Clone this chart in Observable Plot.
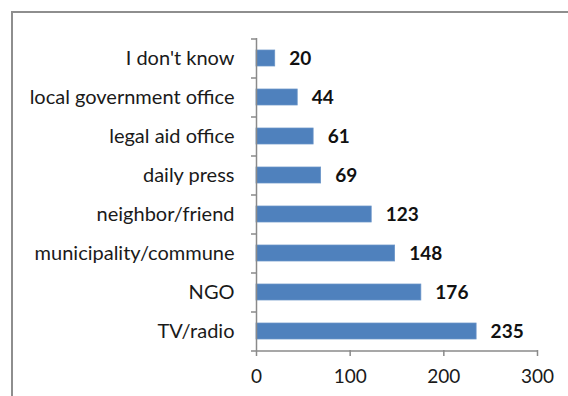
<!DOCTYPE html>
<html>
<head>
<meta charset="utf-8">
<script src="https://cdn.jsdelivr.net/npm/d3@7"></script>
<script src="https://cdn.jsdelivr.net/npm/@observablehq/plot@0.6"></script>
<style>
  html, body { margin: 0; padding: 0; background: #fff; }
  #wrap { position: relative; width: 568px; height: 396px; overflow: hidden; }
  #border { position: absolute; left: 11px; top: 11px; width: 620px; height: 420px; border: 2px solid #8e8e8e; box-sizing: border-box; }
  #chart { position: absolute; left: 0; top: 0; }
</style>
</head>
<body>
<div id="wrap"><div id="border"></div><div id="chart"></div></div>
<script>
const categories = ["I don't know", "local government office", "legal aid office", "daily press", "neighbor/friend", "municipality/commune", "NGO", "TV/radio"];
const values = [20, 44, 61, 69, 123, 148, 176, 235];
const xTicks = [0, 100, 200, 300];

const data = categories.map((c, i) => ({category: c, value: values[i]}));
const axisColor = "#8a8a8a";
const font = "Lato, 'Open Sans', sans-serif";

const chart = Plot.plot({
  width: 568,
  height: 396,
  marginLeft: 256,
  marginRight: 31,
  marginTop: 38,
  marginBottom: 46,
  style: {fontFamily: font, fontSize: "20px", color: "#1a1a1a", background: "transparent"},
  x: {domain: [0, 300], ticks: xTicks, label: null},
  y: {domain: categories, paddingInner: 0.59, paddingOuter: 0.295, label: null},
  marks: [
    Plot.barX(data, {x: "value", y: "category", fill: "#4f81bd", stroke: "#6a94c8", strokeWidth: 0.75}),
    Plot.ruleX([0], {stroke: axisColor, strokeWidth: 1.5}),
    Plot.ruleY(categories, {y: d => d, x1: 0, x2: 0, insetLeft: -5, dy: -19.5, stroke: axisColor, strokeWidth: 1.5}),
    Plot.ruleY([categories[categories.length - 1]], {y: d => d, x1: 0, x2: 300, insetLeft: -5, dy: 19.5, stroke: axisColor, strokeWidth: 1.5}),
    Plot.axisX({ticks: xTicks, tickSize: 6, tickPadding: 13, stroke: axisColor, strokeWidth: 1.5, fill: "#1a1a1a", fontSize: 19, label: null, tickFormat: d => String(d)}),
    Plot.axisY({tickSize: 0, tickPadding: 22, fontSize: 20, fill: "#1a1a1a", label: null}),
    Plot.text(data, {x: "value", y: "category", text: d => String(d.value), dx: 14, textAnchor: "start", fontWeight: "bold", fontSize: 19, fill: "#111"})
  ]
});
document.getElementById("chart").appendChild(chart);
</script>
</body>
</html>
